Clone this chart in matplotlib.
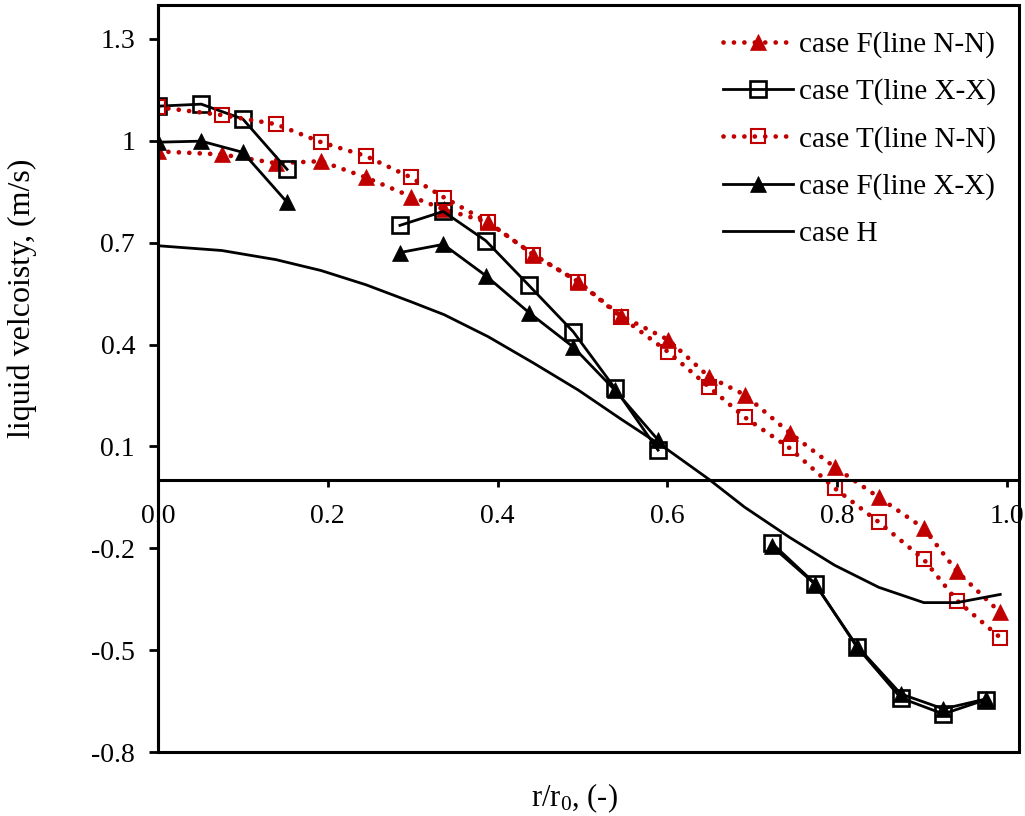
import numpy as np
import matplotlib as mpl
mpl.use('Agg')
import matplotlib.pyplot as plt
from matplotlib.patches import Rectangle

# data
x_nn = [0.0, 0.075, 0.139, 0.192, 0.245, 0.298, 0.337, 0.389, 0.442, 0.495,
        0.545, 0.601, 0.649, 0.691, 0.744, 0.797, 0.849, 0.902, 0.941, 0.992]
f_nn = [0.969, 0.960, 0.934, 0.940, 0.892, 0.836, 0.798, 0.760, 0.665, 0.585,
        0.485, 0.414, 0.305, 0.252, 0.140, 0.039, -0.050, -0.141, -0.268, -0.389]
t_nn = [1.099, 1.076, 1.049, 0.996, 0.955, 0.892, 0.833, 0.760, 0.665, 0.585,
        0.482, 0.378, 0.275, 0.186, 0.095, -0.023, -0.123, -0.233, -0.354, -0.463]
h_case = [0.691, 0.677, 0.650, 0.618, 0.576, 0.526, 0.488, 0.423, 0.346, 0.266,
          0.181, 0.089, 0.003, -0.079, -0.168, -0.250, -0.315, -0.360, -0.360, -0.336]

# line X-X has gaps (nan) where no values were measured
x_xx = [0.0, 0.051, 0.100, 0.152, 0.22, 0.285, 0.336, 0.386, 0.437, 0.489,
        0.538, 0.589, 0.66, 0.723, 0.774, 0.823, 0.875, 0.925, 0.975]
t_xx = [1.102, 1.108, 1.064, 0.916, np.nan, 0.751, 0.792, 0.706, 0.574, 0.438,
        0.272, 0.089, np.nan, -0.185, -0.304, -0.490, -0.641, -0.688, -0.646]
f_xx = [0.996, 0.999, 0.966, 0.819, np.nan, 0.671, 0.695, 0.603, 0.494, 0.393,
        0.266, 0.119, np.nan, -0.194, -0.306, -0.487, -0.629, -0.673, -0.644]

xticks = [0.0, 0.2, 0.4, 0.6, 0.8, 1.0]
xticklabels = ['0.0', '0.2', '0.4', '0.6', '0.8', '1.0']
yticks = [-0.8, -0.5, -0.2, 0.1, 0.4, 0.7, 1.0, 1.3]
yticklabels = ['-0.8', '-0.5', '-0.2', '0.1', '0.4', '0.7', '1', '1.3']

plt.rcParams['font.family'] = ['Liberation Serif', 'DejaVu Serif']
plt.rcParams['mathtext.fontset'] = 'custom'
plt.rcParams['mathtext.rm'] = 'Liberation Serif'
plt.rcParams['mathtext.it'] = 'Liberation Serif:italic'

W, H = 1025, 816
fs = 20
red = '#C00000'
dots = (0, (0.01, 2.2))

fig = plt.figure(figsize=(W / 100, H / 100), dpi=100)
ax = fig.add_axes([158 / W, 1 - 752 / H, (1019 - 158) / W, (752 - 5) / H])

ax.plot(x_nn, f_nn, color=red, lw=3.4, linestyle=dots, dash_capstyle='round',
        marker='^', ms=11, mfc=red, mec=red, mew=0.5, label='case F(line N-N)')
ax.plot(x_xx, t_xx, color='black', lw=2, marker='s', ms=12, mfc='none',
        mec='black', mew=1.9, label='case T(line X-X)')
ax.plot(x_nn, t_nn, color=red, lw=3.4, linestyle=dots, dash_capstyle='round',
        marker='s', ms=10, mfc='none', mec=red, mew=1.5, label='case T(line N-N)')
ax.plot(x_xx, f_xx, color='black', lw=2, marker='^', ms=11.5, mfc='black',
        mec='black', mew=0.5, label='case F(line X-X)')
ax.plot(x_nn, h_case, color='black', lw=2, label='case H')

ax.set_xlim(0, 861 / 849)
ax.set_ylim(-0.8, 1.4)

# x axis crosses at y = 0, plot area has its own border
ax.spines['bottom'].set_position(('data', 0))
ax.spines['bottom'].set_linewidth(2.2)
ax.spines['left'].set_linewidth(2.2)
ax.spines['top'].set_visible(False)
ax.spines['right'].set_visible(False)
ax.add_patch(Rectangle((0, 0), 1, 1, transform=ax.transAxes, fill=False,
                       ec='black', lw=2.2, clip_on=False, zorder=5))

ax.set_xticks(xticks)
ax.set_xticklabels(xticklabels)
ax.set_yticks(yticks)
ax.set_yticklabels(yticklabels)
ax.tick_params(axis='x', direction='out', length=5, width=2, pad=12, labelsize=fs)
ax.tick_params(axis='y', direction='out', length=6.5, width=2, pad=10, labelsize=fs)

ax.set_ylabel('liquid velcoisty, (m/s)', fontsize=23)
ax.yaxis.set_label_coords(-0.14, 0.608)
ax.set_xlabel(r'r/r$_\mathrm{0}$, (-)', fontsize=22)
ax.xaxis.set_label_coords(0.484, -0.040)

ax.legend(loc='upper left', bbox_to_anchor=(0.656, 0.965), frameon=False,
          fontsize=21, handlelength=2.4, handletextpad=0.2, labelspacing=0.7,
          borderpad=0, borderaxespad=0)

fig.savefig('out.png', dpi=100)
